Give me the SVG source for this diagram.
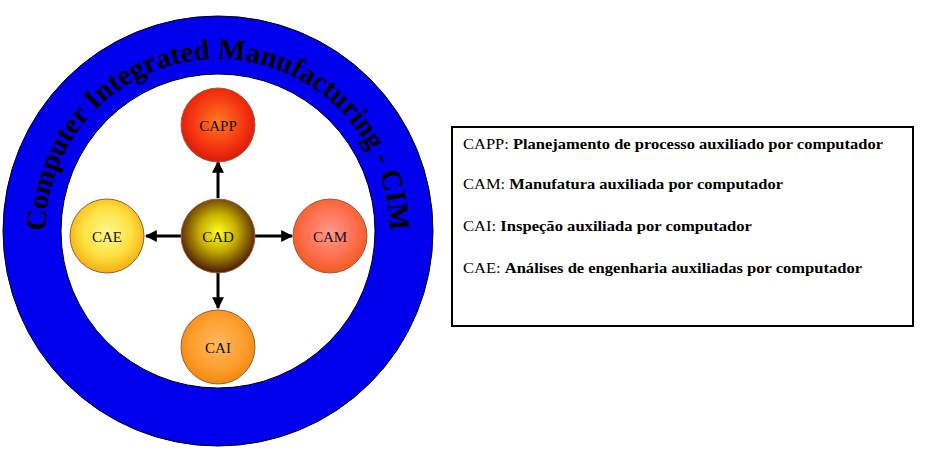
<svg xmlns="http://www.w3.org/2000/svg" width="943" height="472" viewBox="0 0 943 472">
<style>
.lbl{font-family:"Liberation Serif",serif;font-size:15px;text-anchor:middle;fill:#111}
.leg{font-family:"Liberation Serif",serif;font-size:15px;fill:#000}
.b{font-weight:900}
.node{stroke:#a05a3a;stroke-width:1}
</style>
<defs>
<radialGradient id="gCAPP" cx="50%" cy="45%" r="55%"><stop offset="0" stop-color="#ff7a20"/><stop offset="0.7" stop-color="#f33010"/><stop offset="1" stop-color="#d81a08"/></radialGradient>
<radialGradient id="gCAD" cx="50%" cy="45%" r="55%"><stop offset="0" stop-color="#ffff20"/><stop offset="0.45" stop-color="#c8b000"/><stop offset="1" stop-color="#4a1a08"/></radialGradient>
<radialGradient id="gCAE" cx="50%" cy="45%" r="55%"><stop offset="0" stop-color="#fff890"/><stop offset="0.6" stop-color="#ffe040"/><stop offset="1" stop-color="#f0b010"/></radialGradient>
<radialGradient id="gCAM" cx="50%" cy="45%" r="55%"><stop offset="0" stop-color="#ff9a8a"/><stop offset="0.6" stop-color="#ff7050"/><stop offset="1" stop-color="#f05a20"/></radialGradient>
<radialGradient id="gCAI" cx="50%" cy="45%" r="55%"><stop offset="0" stop-color="#ffb860"/><stop offset="0.6" stop-color="#ffa030"/><stop offset="1" stop-color="#f08a10"/></radialGradient>
<marker id="ah" viewBox="0 0 10 10" refX="9" refY="5" markerWidth="4" markerHeight="4" orient="auto"><path d="M0,0 L10,5 L0,10 z" fill="#000"/></marker>
<path id="arc" d="M 46,231 A 172,172 0 0 1 390,231"/>
</defs>
<rect width="943" height="472" fill="#fff"/>
<g id="ring">
<circle cx="218" cy="231" r="186" fill="none" stroke="#0000ee" stroke-width="58"/>
<circle cx="218" cy="231" r="215" fill="none" stroke="#000" stroke-width="1"/>
<circle cx="218" cy="231" r="157" fill="none" stroke="#000" stroke-width="1"/>
<text font-family="Liberation Serif,serif" font-size="29" font-weight="bold" fill="#000"><textPath href="#arc" startOffset="50%" text-anchor="middle" textLength="540" lengthAdjust="spacing">Computer Integrated Manufacturing - CIM</textPath></text>
</g>
<g id="connectors" stroke="#000" stroke-width="3" marker-end="url(#ah)">
<line x1="218" y1="198" x2="218" y2="162"/>
<line x1="181" y1="236" x2="146" y2="236"/>
<line x1="255" y1="236" x2="292" y2="236"/>
<line x1="218" y1="273" x2="218" y2="308"/>
</g>
<g id="CAPP"><circle class="node" cx="218" cy="125" r="37" fill="url(#gCAPP)"/><text class="lbl" x="218" y="131">CAPP</text></g>
<g id="CAD"><circle class="node" cx="218" cy="236" r="37" fill="url(#gCAD)"/><text class="lbl" x="218" y="242">CAD</text></g>
<g id="CAE"><circle class="node" cx="107" cy="236" r="37" fill="url(#gCAE)"/><text class="lbl" x="107" y="242">CAE</text></g>
<g id="CAM"><circle class="node" cx="330" cy="236" r="37" fill="url(#gCAM)"/><text class="lbl" x="330" y="242">CAM</text></g>
<g id="CAI"><circle class="node" cx="218" cy="347" r="37" fill="url(#gCAI)"/><text class="lbl" x="218" y="353">CAI</text></g>
<g id="legend">
<rect x="452" y="127" width="461" height="199" fill="#fff" stroke="#000" stroke-width="2"/>
<text class="leg" x="463" y="149" textLength="420" lengthAdjust="spacingAndGlyphs">CAPP: <tspan class="b">Planejamento de processo auxiliado por computador</tspan></text>
<text class="leg" x="463" y="189" textLength="320" lengthAdjust="spacingAndGlyphs">CAM: <tspan class="b">Manufatura auxiliada por computador</tspan></text>
<text class="leg" x="463" y="231" textLength="289" lengthAdjust="spacingAndGlyphs">CAI: <tspan class="b">Inspeção auxiliada por computador</tspan></text>
<text class="leg" x="463" y="273" textLength="399" lengthAdjust="spacingAndGlyphs">CAE: <tspan class="b">Análises de engenharia auxiliadas por computador</tspan></text>
</g>
</svg>
